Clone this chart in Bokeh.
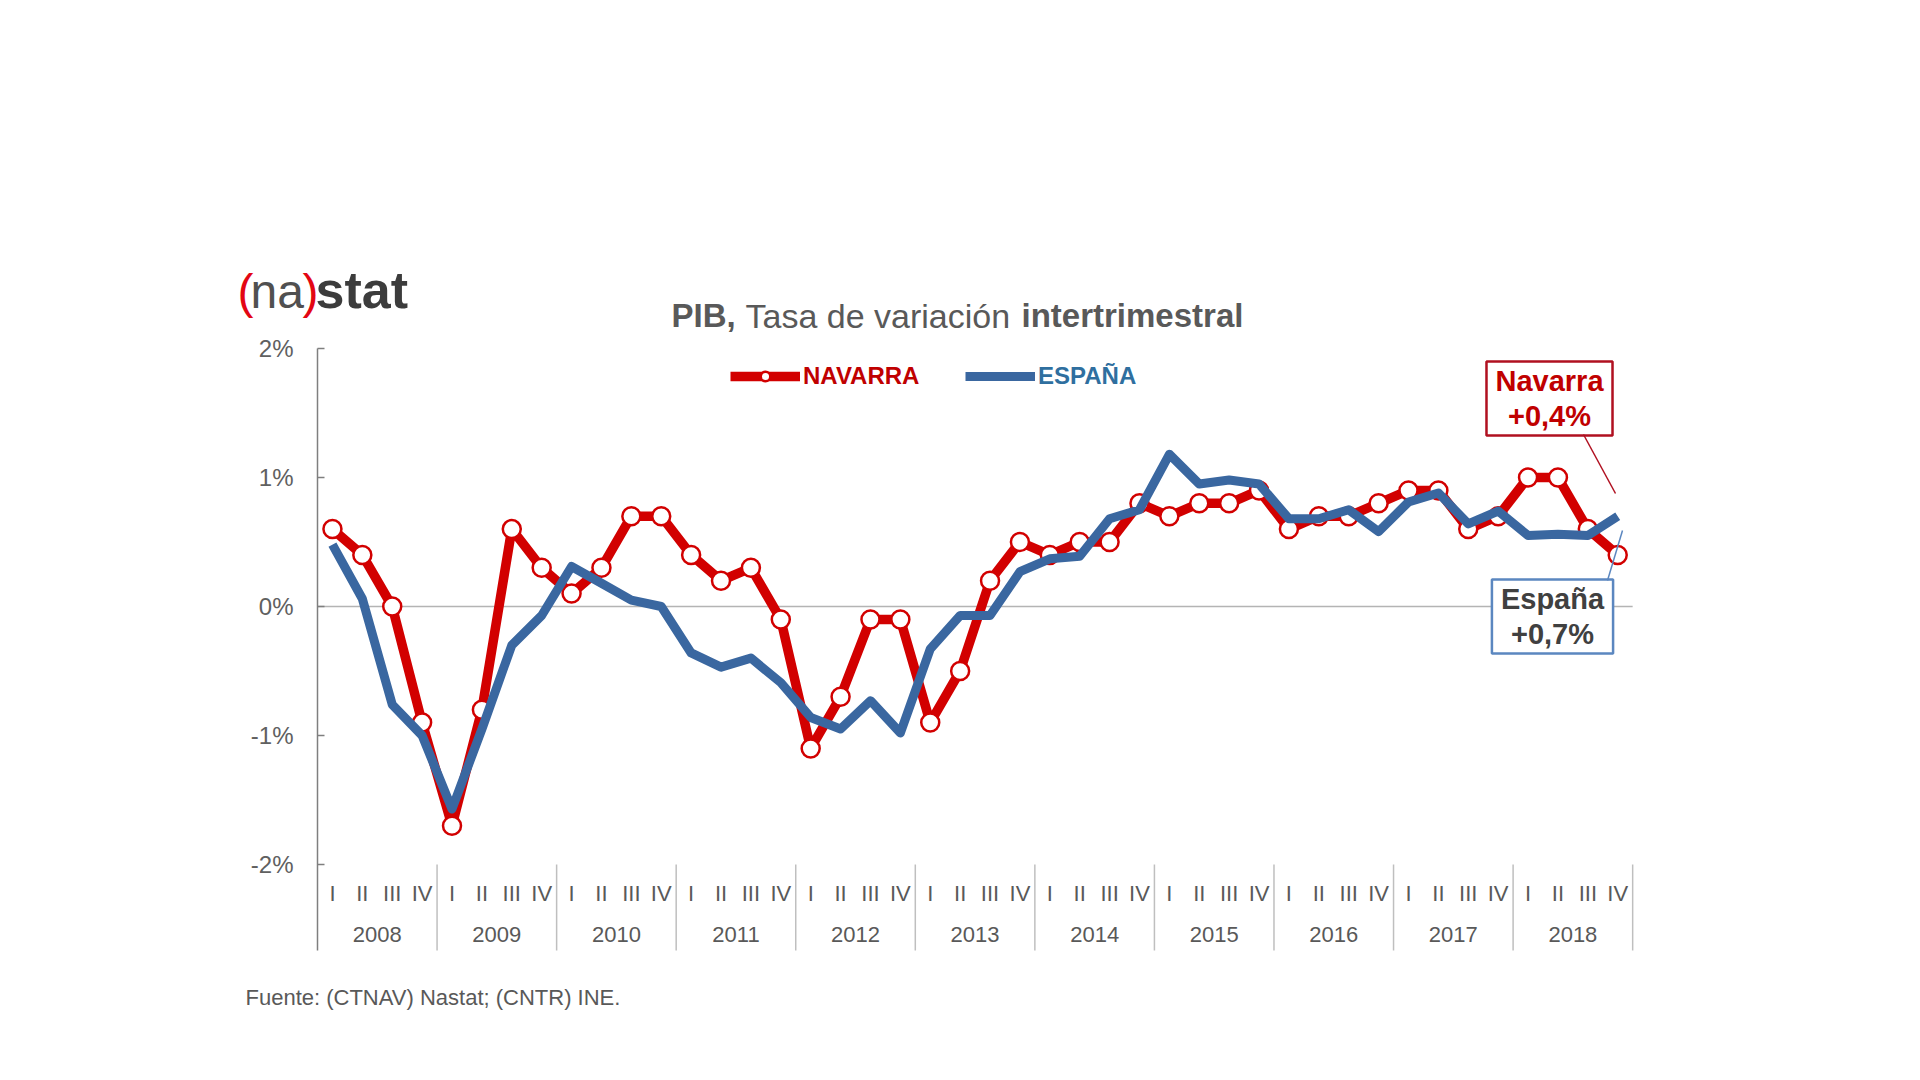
from bokeh.plotting import figure
from bokeh.models import (Range1d, FixedTicker, Label, Legend, LegendItem,
                          Arrow, LinearAxis)
from bokeh.core.properties import value
from bokeh.embed import file_html
from bokeh.resources import INLINE

# ---------------- data ----------------
years = ["2008", "2009", "2010", "2011", "2012", "2013",
         "2014", "2015", "2016", "2017", "2018"]
quarters = ["I", "II", "III", "IV"]
navarra = [0.6, 0.4, 0.0, -0.9,
           -1.7, -0.8, 0.6, 0.3,
           0.1, 0.3, 0.7, 0.7,
           0.4, 0.2, 0.3, -0.1,
           -1.1, -0.7, -0.1, -0.1,
           -0.9, -0.5, 0.2, 0.5,
           0.4, 0.5, 0.5, 0.8,
           0.7, 0.8, 0.8, 0.9,
           0.6, 0.7, 0.7, 0.8,
           0.9, 0.9, 0.6, 0.7,
           1.0, 1.0, 0.6, 0.4]
espana = [0.48, 0.06, -0.76, -1.0,
          -1.57, -0.95, -0.3, -0.07,
          0.31, 0.18, 0.05, 0.0,
          -0.36, -0.47, -0.4, -0.59,
          -0.86, -0.95, -0.73, -0.98,
          -0.33, -0.07, -0.07, 0.27,
          0.37, 0.39, 0.68, 0.75,
          1.18, 0.95, 0.98, 0.95,
          0.68, 0.68, 0.75, 0.58,
          0.81, 0.88, 0.64, 0.74,
          0.55, 0.56, 0.55, 0.70]
y_ticks = [-2, -1, 0, 1, 2]
y_tick_labels = ["-2%", "-1%", "0%", "1%", "2%"]

title_parts = ["PIB,", "Tasa de variación", "intertrimestral"]
legend_labels = ["NAVARRA", "ESPAÑA"]
last_navarra_text = "Navarra\n+0,4%"
last_espana_text = "España\n+0,7%"
source_text = "Fuente: (CTNAV) Nastat; (CNTR) INE."

# ---------------- layout constants ----------------
W, H = 1920, 1080
AX_X = 317          # canvas x of the value axis
TOP_Y = 348         # canvas y of the 2% level
Q_PX = 29.89        # pixels per quarter
PCT_PX = 129.0      # pixels per percentage point
Y_MAX = y_ticks[-1]
Y_MIN = y_ticks[0]
BOTTOM_LEVEL = Y_MAX - (950 - TOP_Y) / PCT_PX   # bottom of category area
BASE_K = 0.38       # label anchor correction (fraction of font size)

n = len(navarra)
idx = list(range(n))
q_labels = [quarters[i % 4] for i in idx]
year_pos = [4 * k + 1.5 for k in range(len(years))]
sep_pos = [4 * k - 0.5 for k in range(1, len(years) + 1)]
x_left = -0.5
x_right = n - 0.5

x_start = x_left - AX_X / Q_PX
x_end = x_start + W / Q_PX
y_end = Y_MAX + TOP_Y / PCT_PX
y_start = y_end - H / PCT_PX

FONT = "Liberation Sans"
RED = "#d20000"
BLUE = "#3a67a0"
GREY = "#595959"

p = figure(width=W, height=H, output_backend="svg", toolbar_location=None,
           x_range=Range1d(x_start, x_end), y_range=Range1d(y_start, y_end),
           x_axis_location=None, y_axis_location=None,
           min_border=0, outline_line_color=None,
           background_fill_color="white", border_fill_color="white")
p.grid.visible = False

yax = LinearAxis(fixed_location=x_left, bounds=(BOTTOM_LEVEL, Y_MAX))
yax.ticker = FixedTicker(ticks=y_ticks)
yax.major_label_overrides = {t: l for t, l in zip(y_ticks, y_tick_labels)}
yax.major_label_text_font = FONT
yax.major_label_text_font_size = "24px"
yax.major_label_text_color = "#606060"
yax.axis_line_color = "#7f7f7f"
yax.axis_line_width = 1.5
yax.major_tick_line_color = "#7f7f7f"
yax.major_tick_line_width = 1.5
yax.major_tick_in = 7
yax.major_tick_out = 0
yax.minor_tick_line_color = None
yax.major_label_standoff = 24
p.add_layout(yax, "left")

# zero line
p.segment(x0=[x_left], y0=[0], x1=[x_right], y1=[0],
          line_color="#b4b4b4", line_width=1.5)

# category labels and separators
QY = Y_MAX - (893 - TOP_Y) / PCT_PX
YY = Y_MAX - (934 - TOP_Y) / PCT_PX
p.text(x=idx, y=[QY] * n, text=q_labels, text_font=value(FONT),
       text_font_size="22px", text_color=GREY, text_align="center",
       text_baseline="middle")
p.text(x=year_pos, y=[YY] * len(years), text=years, text_font=value(FONT),
       text_font_size="22px", text_color=GREY, text_align="center",
       text_baseline="middle")
p.segment(x0=sep_pos, y0=[Y_MIN] * len(sep_pos), x1=sep_pos,
          y1=[BOTTOM_LEVEL] * len(sep_pos), line_color="#bfbfbf",
          line_width=1.5)

# series
rl = p.line(idx, navarra, line_color=RED, line_width=9.5, line_join="round")
rs = p.scatter(idx, navarra, size=18, fill_color="white", line_color=RED,
               line_width=2.5)
bl = p.line(idx, espana, line_color=BLUE, line_width=9, line_join="round")

# legends (location = bottom-left corner, from canvas bottom-left)
for lbl, rends, color, x0 in [(legend_labels[0], [rl, rs], "#c00000", 730),
                              (legend_labels[1], [bl], "#2f6f9f", 965)]:
    lg = Legend(items=[LegendItem(label=lbl, renderers=rends)],
                location=(x0, H - 378 - 12), orientation="horizontal",
                glyph_width=70, glyph_height=24, label_standoff=3,
                label_text_color=color, label_text_font=FONT,
                label_text_font_style="bold", label_text_font_size="24px",
                border_line_color=None, background_fill_alpha=0,
                padding=0, margin=0)
    p.add_layout(lg)


def lab(text, x, y, size, color, style="normal", align="left",
        baseline="alphabetic", **kw):
    if baseline == "alphabetic":
        y = y - BASE_K * size
    p.add_layout(Label(x=x, y=H - y, x_units="screen", y_units="screen",
                       text=text, text_font=FONT,
                       text_font_size=f"{size}px", text_color=color,
                       text_font_style=style, text_align=align,
                       text_baseline=baseline, **kw))


# logo (baseline at canvas y 309)
lab("(", 237, 309, 48, "#e30613")
lab("na", 250, 309, 48, "#505050")
lab(")", 302, 309, 48, "#e30613")
lab("stat", 315, 309, 52, "#3c3c3c", "bold")

# title (baseline at canvas y 328)
lab(title_parts[0], 671, 328, 33, GREY, "bold")
lab(title_parts[1], 745, 328, 34, GREY)
lab(title_parts[2], 1021, 328, 33, GREY, "bold")

# end-value boxes
lab(last_navarra_text, 1549, 398, 29, "#c00000", "bold", "center", "middle",
    background_fill_color="white", border_line_color="#b01020",
    border_line_width=2.5, padding=dict(left=9, right=9, top=3, bottom=3),
    text_line_height=1.12)
lab(last_espana_text, 1552, 616, 29, "#404040", "bold", "center", "middle",
    background_fill_color="white", border_line_color="#5b87c0",
    border_line_width=2.5, padding=dict(left=9, right=9, top=3, bottom=3),
    text_line_height=1.12)

p.add_layout(Arrow(end=None, x_start=1583, y_start=H - 434,
                   x_end=1615, y_end=H - 493,
                   start_units="screen", end_units="screen",
                   line_color="#b01020", line_width=1.5))
p.add_layout(Arrow(end=None, x_start=1607, y_start=H - 580,
                   x_end=1622, y_end=H - 530,
                   start_units="screen", end_units="screen",
                   line_color="#5b87c0", line_width=1.5))

# source (baseline at canvas y 1005)
lab(source_text, 245, 1005, 22, GREY)

open("out.html", "w").write(file_html(p, INLINE))
